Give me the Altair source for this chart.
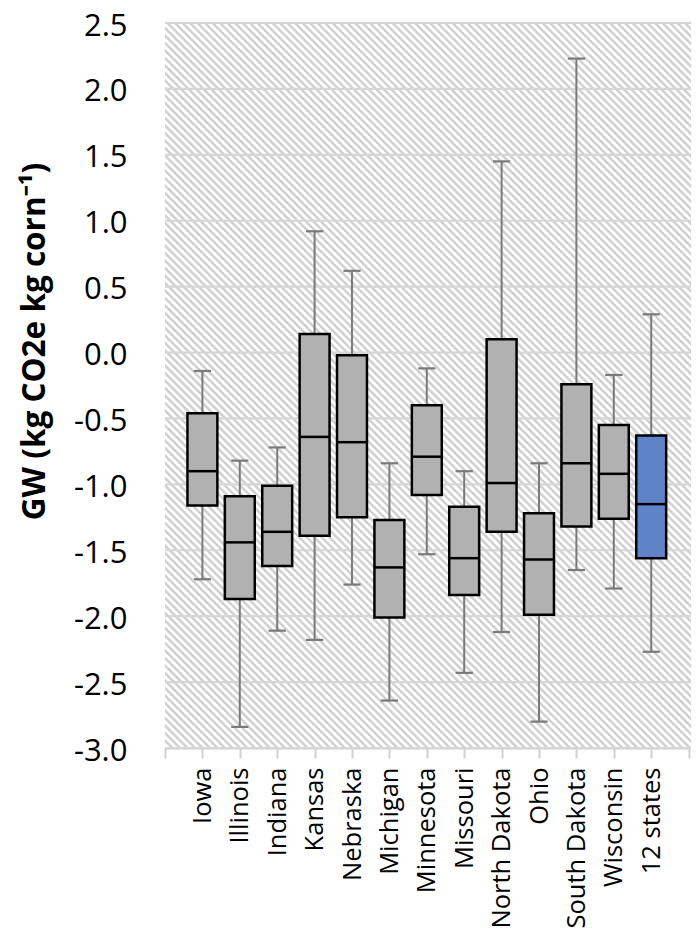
import altair as alt
import pandas as pd
import numpy as np

# ---- data ----
states = ["Iowa", "Illinois", "Indiana", "Kansas", "Nebraska", "Michigan",
          "Minnesota", "Missouri", "North Dakota", "Ohio", "South Dakota",
          "Wisconsin", "12 states"]
whisker_high = [-0.14, -0.82, -0.72, 0.92, 0.62, -0.84, -0.12, -0.90, 1.45, -0.84, 2.23, -0.17, 0.29]
box_top      = [-0.46, -1.09, -1.01, 0.14, -0.02, -1.27, -0.40, -1.17, 0.10, -1.22, -0.24, -0.55, -0.63]
median       = [-0.90, -1.44, -1.36, -0.64, -0.68, -1.63, -0.79, -1.56, -0.99, -1.57, -0.84, -0.92, -1.15]
box_bottom   = [-1.16, -1.87, -1.62, -1.39, -1.25, -2.01, -1.08, -1.84, -1.36, -1.99, -1.32, -1.26, -1.56]
whisker_low  = [-1.72, -2.84, -2.11, -2.18, -1.76, -2.64, -1.53, -2.43, -2.12, -2.80, -1.65, -1.79, -2.27]
y_ticks = [-3.0, -2.5, -2.0, -1.5, -1.0, -0.5, 0.0, 0.5, 1.0, 1.5, 2.0, 2.5]

# ---- layout ----
W, H = 526, 725
X_DOMAIN = [0, 14.064]
Y_DOMAIN = [-3.0, 2.5]
FONT = "Open Sans"

n = len(states)
pos = np.arange(1, n + 1)
df = pd.DataFrame({
    "state": states, "pos": pos,
    "lo": whisker_low, "q1": box_bottom, "med": median, "q3": box_top, "hi": whisker_high,
    "kind": ["state"] * (n - 1) + ["all"],
})
df["bx0"] = df["pos"] - 0.4
df["bx1"] = df["pos"] + 0.4
df["cx0"] = df["pos"] - 0.23
df["cx1"] = df["pos"] + 0.23

xs = alt.Scale(domain=X_DOMAIN, nice=False, zero=False)
ys = alt.Scale(domain=Y_DOMAIN, nice=False, zero=False)

x_axis = alt.Axis(
    values=list(range(0, 15)),
    labelExpr="datum.value >= 1 && datum.value <= %d ? %s[datum.value - 1] : ''" % (
        n, "[" + ",".join("'%s'" % s for s in states) + "]"),
    labelAngle=270, labelAlign="right", labelBaseline="middle",
    labelFont=FONT, labelFontSize=25.5, labelColor="#000000", labelPadding=9,
    tickColor="#d0d0d0", tickWidth=2, tickSize=10,
    domainColor="#d0d0d0", domainWidth=2, grid=False, title=None,
    labelOverlap=False, labelFlush=False, labelBound=False,
)
y_axis = alt.Axis(
    values=y_ticks,
    labelExpr="replace(format(datum.value, '.1f'), '\u2212', '-')",
    labelFont=FONT, labelFontSize=31, labelColor="#000000", labelPadding=38,
    labelOffset=3,
    ticks=False, domain=False, grid=False, labelOverlap=False, labelFlush=False,
    labelBound=False,
    title="GW (kg CO2e kg corn\u207b\u00b9)",
    titleFont=FONT, titleFontSize=31.5, titleFontWeight="bold", titleColor="#000000",
    titleAngle=270, titleX=-130, titleY=318, titleAlign="center", titleBaseline="middle",
)

def X(field):
    return alt.X(field, type="quantitative", scale=xs, axis=x_axis)

def Y(field):
    return alt.Y(field, type="quantitative", scale=ys, axis=y_axis)

# ---- hatch background (decorative 45-degree lines) ----
px_per_x = W / (X_DOMAIN[1] - X_DOMAIN[0])
span_x = H / px_per_x
step = 7.5 / px_per_x
starts = np.arange(X_DOMAIN[0] - span_x - step, X_DOMAIN[1] + step, step)
hatch_df = pd.DataFrame({"hx": starts, "hx2": starts + span_x,
                         "hy": Y_DOMAIN[1], "hy2": Y_DOMAIN[0]})
hatch = alt.Chart(hatch_df).mark_rule(color="#d0d0d0", strokeWidth=2.4, clip=True).encode(
    x=X("hx"), x2="hx2", y=Y("hy"), y2="hy2",
)

grid_df = pd.DataFrame({"gy": y_ticks})
grid = alt.Chart(grid_df).mark_rule(color="#d6d6d6", strokeWidth=2.2).encode(
    y=Y("gy"), x=alt.value(0), x2=alt.value(W),
)

base = alt.Chart(df)

whisk_up = base.mark_rule(color="#7a7a7a", strokeWidth=2).encode(
    x=X("pos"), y=Y("q3"), y2="hi",
)
whisk_dn = base.mark_rule(color="#7a7a7a", strokeWidth=2).encode(
    x=X("pos"), y=Y("q1"), y2="lo",
)
cap_hi = base.mark_rule(color="#7a7a7a", strokeWidth=2.2).encode(
    x=X("cx0"), x2="cx1", y=Y("hi"),
)
cap_lo = base.mark_rule(color="#7a7a7a", strokeWidth=2.2).encode(
    x=X("cx0"), x2="cx1", y=Y("lo"),
)
boxes = base.mark_rect(stroke="#000000", strokeWidth=2.5).encode(
    x=X("bx0"), x2="bx1", y=Y("q1"), y2="q3",
    fill=alt.Fill("kind:N", scale=alt.Scale(domain=["state", "all"],
                                            range=["#b1b1b1", "#5f83c9"]), legend=None),
)
med = base.mark_rule(color="#000000", strokeWidth=2.5).encode(
    x=X("bx0"), x2="bx1", y=Y("med"),
)

chart = alt.layer(hatch, grid, whisk_up, whisk_dn, cap_hi, cap_lo, boxes, med).properties(
    width=W, height=H,
    background="#ffffff",
    autosize=alt.AutoSizeParams(type="none"),
    padding={"left": 157, "top": 15, "right": 0, "bottom": 186},
).configure_view(stroke=None)

chart.save("out.html", embed_options={"renderer": "svg", "actions": False})
